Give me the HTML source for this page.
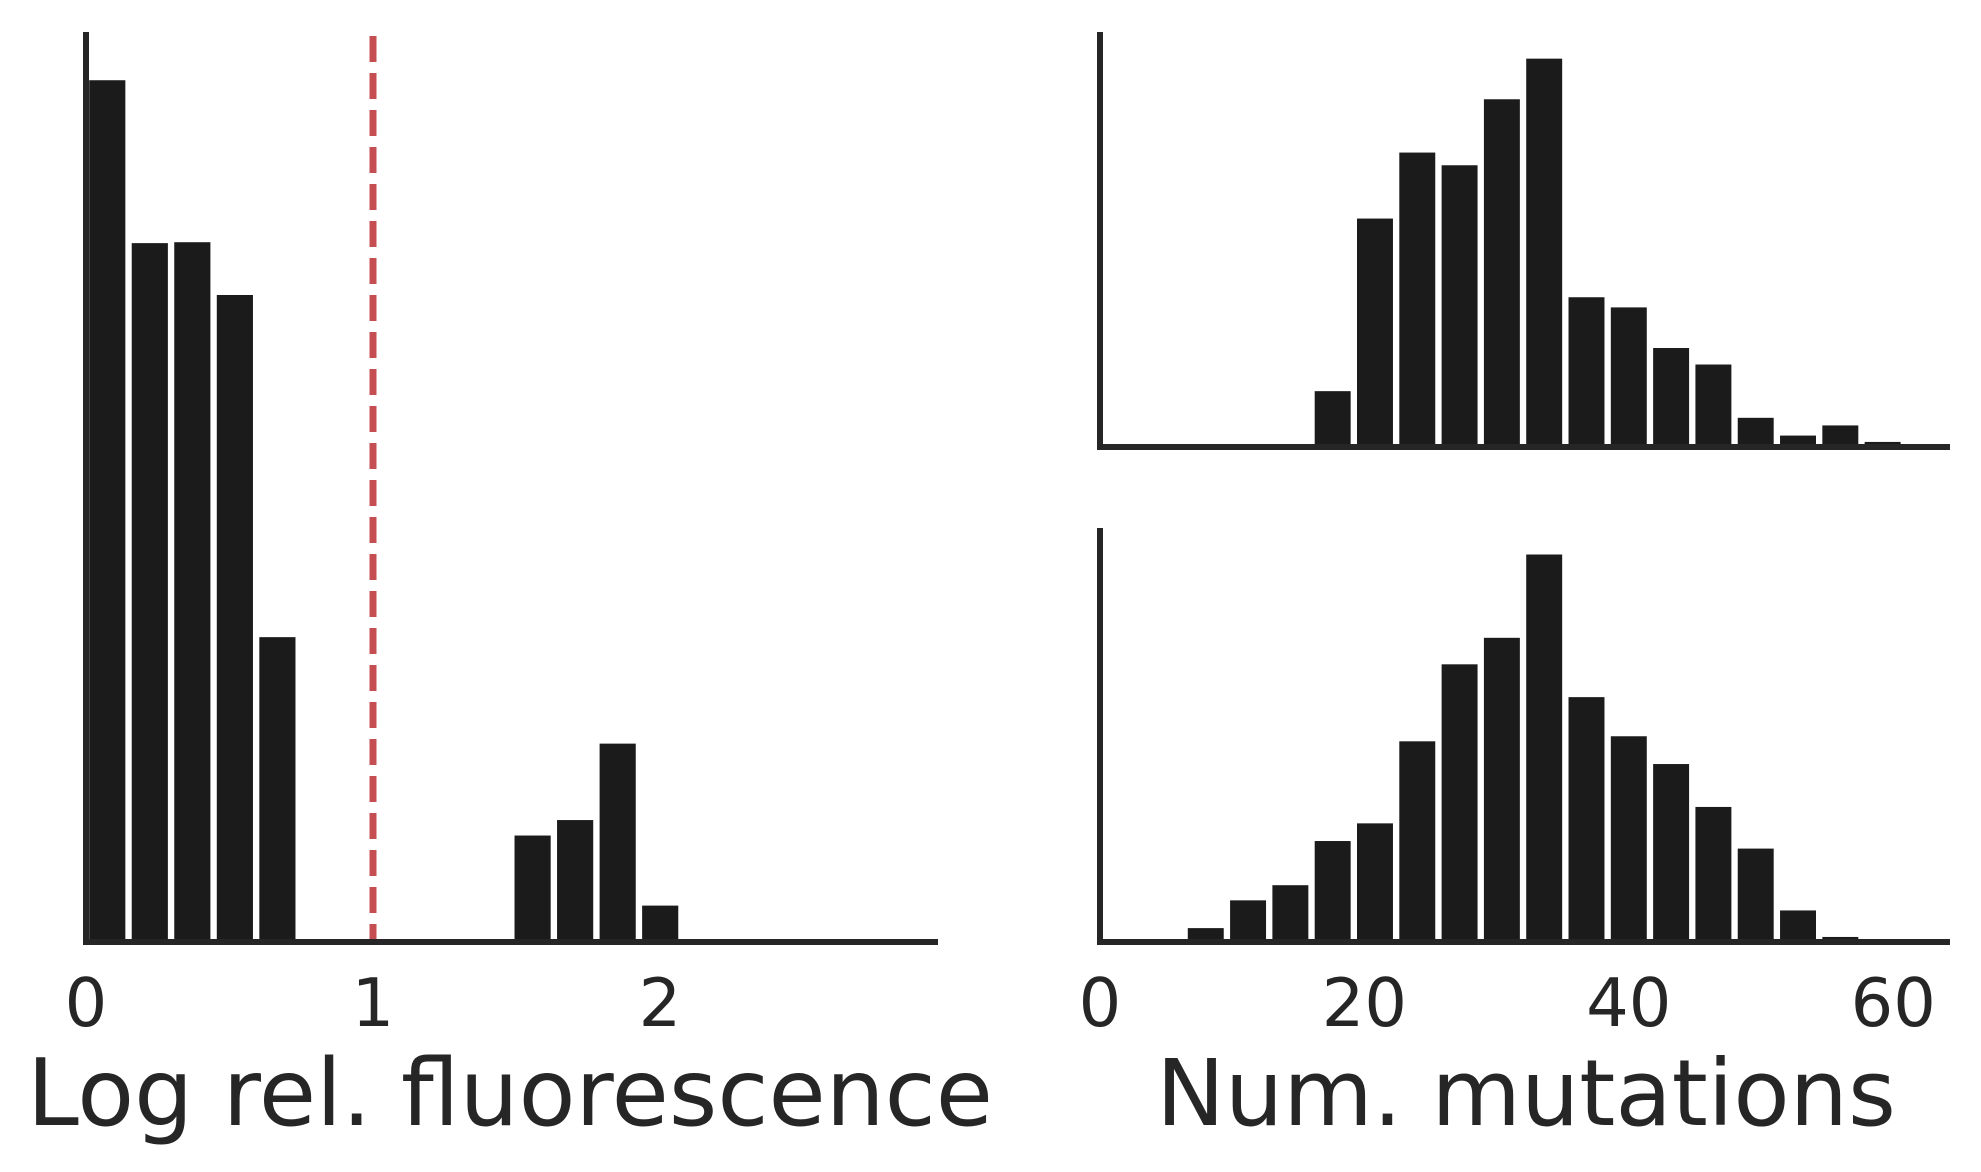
<!DOCTYPE html>
<html><head><meta charset="utf-8"><style>
html,body{margin:0;padding:0;background:#fff;}
svg{display:block;}
text{font-family:"DejaVu Sans","Liberation Sans",sans-serif;fill:#262626;}
</style></head><body>
<svg id="chart" width="1981" height="1172" viewBox="0 0 1981 1172" xmlns="http://www.w3.org/2000/svg"></svg>
<script>
// Left: log relative fluorescence histogram
const fluorBinWidth = 0.1482;
const fluorCounts = [94.7, 76.8, 76.9, 71.1, 33.5, 0, 0, 0, 0, 0, 11.7, 13.4, 21.8, 4.0];
const fluorTicks = [0, 1, 2];
const fluorThreshold = 1;
// Right: number of mutations histograms
const mutBinWidth = 3.2;
const mutTopCounts = [0,0,0,0,0,44,180,232,222,274,306,118,110,78,65,23,9,17,4,1];
const mutBottomCounts = [0,0,11,33,45,80,94,159,220,241,307,194,163,141,107,74,25,4,0,0];
const mutTicks = [0, 20, 40, 60];

const NS = 'http://www.w3.org/2000/svg';
const svg = document.getElementById('chart');
function mk(tag, attrs, parent){
  const e = document.createElementNS(NS, tag);
  for (const k in attrs) e.setAttribute(k, attrs[k]);
  (parent||svg).appendChild(e);
  return e;
}
const AX = '#262626', BAR = '#1b1b1b';

// ---- Left panel ----
const L = {x0:86, xUnit:287, base:942, top:32, yMax:100};
const lx = v => L.x0 + v*L.xUnit;
const ly = v => L.base - v/L.yMax*(L.base-L.top);
const gL = mk('g', {});


fluorCounts.forEach((c,i)=>{
  if (c<=0) return;
  const x1 = lx(i*fluorBinWidth), x2 = lx((i+1)*fluorBinWidth);
  const w = (x2-x1)*0.85;
  const r = mk('rect', {x:x1+(x2-x1-w)/2, y:ly(c), width:w, height:L.base-ly(c), fill:BAR}, gL);
  
  
});
const thr = mk('line', {x1:lx(fluorThreshold), x2:lx(fluorThreshold), y1:36, y2:L.base, stroke:'#c44e52', 'stroke-width':7, 'stroke-dasharray':'26 11'}, gL);


const lya = mk('line', {x1:L.x0, x2:L.x0, y1:L.top, y2:L.base+3, stroke:AX, 'stroke-width':6}, gL);


const lxa = mk('line', {x1:L.x0-3, x2:938, y1:L.base, y2:L.base, stroke:AX, 'stroke-width':6}, gL);


fluorTicks.forEach(t=>{
  const tx = mk('text', {x:lx(t), y:1026, 'text-anchor':'middle', 'font-size':67}, gL);
  
  
  tx.textContent = t;
});
const lt = mk('text', {x:510, y:1125, 'text-anchor':'middle', 'font-size':93}, gL);


lt.textContent = 'Log rel. fluorescence';

// ---- Right panels ----
const R = {x0:1100, xUnit:13.22, xEnd:1950};
const rx = v => R.x0 + v*R.xUnit;
function panel(counts, base, top, yMax, name){
  const g = mk('g', {});
  
  
  const ry = v => base - v/yMax*(base-top);
  counts.forEach((c,i)=>{
    if (c<=0) return;
    const x1 = rx(i*mutBinWidth), x2 = rx((i+1)*mutBinWidth);
    const w = (x2-x1)*0.85;
    const r = mk('rect', {x:x1+(x2-x1-w)/2, y:ry(c), width:w, height:base-ry(c), fill:BAR}, g);
    
    
  });
  const ya = mk('line', {x1:R.x0, x2:R.x0, y1:top, y2:base+3, stroke:AX, 'stroke-width':6}, g);
  
  
  const xa = mk('line', {x1:R.x0-3, x2:R.xEnd, y1:base, y2:base, stroke:AX, 'stroke-width':6}, g);
  
  
}
panel(mutTopCounts, 447, 32, 327, 'mutations-top-histogram');
panel(mutBottomCounts, 942, 528, 328, 'mutations-bottom-histogram');
mutTicks.forEach(t=>{
  const tx = mk('text', {x:rx(t), y:1026, 'text-anchor':'middle', 'font-size':67});
  
  
  tx.textContent = t;
});
const rt = mk('text', {x:1526, y:1125, 'text-anchor':'middle', 'font-size':92});


rt.textContent = 'Num. mutations';
</script>
</body></html>
